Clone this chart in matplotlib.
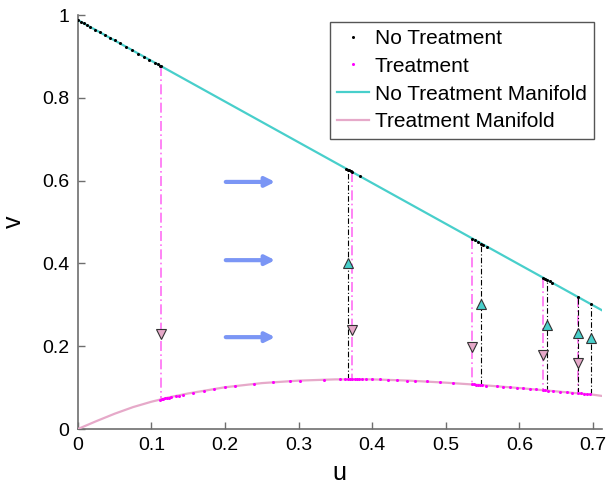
import matplotlib.pyplot as plt

plt.rcParams['font.family'] = ['Liberation Sans', 'DejaVu Sans']

# manifolds
upper_u = [0.0, 0.712]
upper_v = [0.988, 0.287]
lower_u = [0, 0.025, 0.05, 0.075, 0.1, 0.125, 0.15, 0.2, 0.25, 0.3, 0.35, 0.4,
           0.45, 0.5, 0.55, 0.6, 0.65, 0.7, 0.712]
lower_v = [0, 0.019, 0.037, 0.053, 0.066, 0.077, 0.086, 0.101, 0.111, 0.117, 0.120,
           0.120, 0.117, 0.112, 0.106, 0.099, 0.091, 0.083, 0.080]

# trajectory points without treatment (on upper manifold)
nt_u = [0.000, 0.004, 0.008, 0.012, 0.016, 0.023, 0.030, 0.037, 0.044, 0.050, 0.057,
        0.066, 0.074, 0.082, 0.090, 0.097, 0.105, 0.109, 0.112, 0.113,
        0.365, 0.367, 0.369, 0.371, 0.372, 0.383,
        0.536, 0.540, 0.544, 0.548, 0.551, 0.556,
        0.632, 0.635, 0.638, 0.641, 0.644,
        0.680, 0.697]
nt_v = [0.988, 0.984, 0.980, 0.976, 0.972, 0.965, 0.958, 0.952, 0.945, 0.939, 0.932,
        0.923, 0.915, 0.907, 0.899, 0.892, 0.885, 0.881, 0.878, 0.877,
        0.628, 0.627, 0.625, 0.623, 0.622, 0.611,
        0.460, 0.456, 0.452, 0.448, 0.445, 0.440,
        0.365, 0.363, 0.360, 0.357, 0.354,
        0.318, 0.301]

# trajectory points with treatment (on lower manifold)
tr_u = [0.112, 0.114, 0.116, 0.118, 0.121, 0.124, 0.127, 0.133, 0.137, 0.143, 0.157,
        0.171, 0.185, 0.200, 0.214, 0.240, 0.265, 0.288, 0.302, 0.335, 0.356, 0.363,
        0.367, 0.370, 0.373, 0.376, 0.379, 0.382, 0.386, 0.392, 0.399, 0.410, 0.422,
        0.433, 0.447, 0.458, 0.474, 0.492, 0.510, 0.535, 0.538, 0.541, 0.544, 0.547,
        0.549, 0.555, 0.569, 0.578, 0.587, 0.596, 0.605, 0.614, 0.623, 0.632, 0.635,
        0.639, 0.646, 0.655, 0.664, 0.671, 0.680, 0.684, 0.688, 0.692, 0.696]
tr_v = [0.071, 0.072, 0.073, 0.074, 0.075, 0.076, 0.077, 0.080, 0.081, 0.083, 0.088,
        0.093, 0.097, 0.101, 0.104, 0.109, 0.113, 0.116, 0.117, 0.119, 0.120, 0.120,
        0.120, 0.120, 0.120, 0.120, 0.120, 0.120, 0.120, 0.120, 0.120, 0.120, 0.119,
        0.118, 0.117, 0.116, 0.115, 0.113, 0.111, 0.108, 0.108, 0.107, 0.107, 0.107,
        0.106, 0.105, 0.103, 0.102, 0.101, 0.099, 0.098, 0.097, 0.096, 0.094, 0.094,
        0.093, 0.092, 0.090, 0.089, 0.088, 0.086, 0.086, 0.085, 0.084, 0.084]

# switching: treatment starts (drop) / stops (rise)
drop_u = [0.113, 0.372, 0.536, 0.632, 0.680]
drop_top = [0.877, 0.622, 0.460, 0.365, 0.318]
drop_bot = [0.071, 0.120, 0.108, 0.094, 0.086]
drop_mark = [0.229, 0.239, 0.199, 0.180, 0.160]

rise_u = [0.367, 0.548, 0.637, 0.680, 0.697]
rise_bot = [0.120, 0.107, 0.093, 0.086, 0.084]
rise_top = [0.627, 0.448, 0.361, 0.318, 0.301]
rise_mark = [0.402, 0.301, 0.252, 0.233, 0.221]

arrow_v = [0.597, 0.408, 0.222]
arrow_u0, arrow_u1 = 0.201, 0.268

cyan = '#48cfcb'
pink = '#e6a9c9'

fig = plt.figure(figsize=(6.08, 4.87), dpi=100)
ax = fig.add_axes([0.128, 0.119, 0.862, 0.850])

for u, top, bot, m in zip(drop_u, drop_top, drop_bot, drop_mark):
    ax.plot([u, u], [top, bot], color='#ff22ee', alpha=0.65, lw=1.2,
            linestyle=(0, (6, 2, 1, 2)), zorder=2)
    ax.plot(u, m, marker='v', ms=6.5, mfc=pink, mec='#333333', mew=0.8, zorder=5)

for u, bot, top, m in zip(rise_u, rise_bot, rise_top, rise_mark):
    ax.plot([u, u], [bot, top], color='black', lw=0.8,
            linestyle=(0, (5, 2, 1, 2)), zorder=2)
    ax.plot(u, m, marker='^', ms=6.5, mfc=cyan, mec='#333333', mew=0.8, zorder=5)

ax.plot(nt_u, nt_v, 'o', color='black', ms=2.2, mew=0, zorder=4, label='No Treatment')
ax.plot(tr_u, tr_v, 'o', color='#ff00ff', ms=2.2, mew=0, zorder=4, label='Treatment')
ax.plot(upper_u, upper_v, color=cyan, lw=1.6, zorder=3, label='No Treatment Manifold')
ax.plot(lower_u, lower_v, color=pink, lw=1.6, zorder=3, label='Treatment Manifold')

for v in arrow_v:
    ax.annotate('', xy=(arrow_u1, v), xytext=(arrow_u0, v),
                arrowprops=dict(arrowstyle='-|>', color='#7b96f5', lw=3,
                                mutation_scale=14, shrinkA=0, shrinkB=0))

ax.set_xlim(0, 0.712)
ax.set_ylim(0, 1)
ax.set_xticks([0, 0.1, 0.2, 0.3, 0.4, 0.5, 0.6, 0.7])
ax.set_xticklabels(['0', '0.1', '0.2', '0.3', '0.4', '0.5', '0.6', '0.7'])
ax.set_yticks([0, 0.2, 0.4, 0.6, 0.8, 1])
ax.set_yticklabels(['0', '0.2', '0.4', '0.6', '0.8', '1'])
ax.tick_params(direction='in', length=5, width=1, color='#6e6e6e', labelsize=14, pad=6)
ax.spines['top'].set_visible(False)
ax.spines['right'].set_visible(False)
for s in ['left', 'bottom']:
    ax.spines[s].set_color('#6e6e6e')
    ax.spines[s].set_linewidth(1.2)

ax.set_xlabel('u', fontsize=18, labelpad=5)
ax.set_ylabel('v', fontsize=18)
ax.yaxis.set_label_coords(-0.099, 0.5)

leg = ax.legend(loc='upper right', bbox_to_anchor=(0.985, 0.984), borderaxespad=0,
                fontsize=15, fancybox=False, framealpha=1, edgecolor='#555555',
                handlelength=1.5, handletextpad=0.3, labelspacing=0.42,
                borderpad=0.35, markerscale=1.0)
leg.get_frame().set_linewidth(1.0)

fig.savefig('out.png', dpi=100)
